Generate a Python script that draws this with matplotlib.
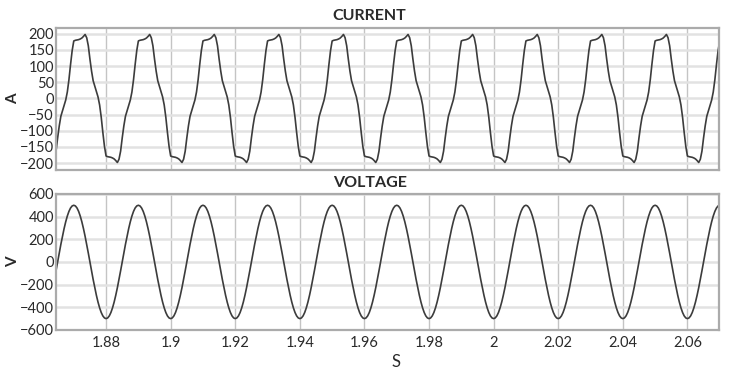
import numpy as np
import matplotlib
matplotlib.use('Agg')
import matplotlib.pyplot as plt
from matplotlib.ticker import FormatStrFormatter

plt.rcParams['font.family'] = ['Lato', 'DejaVu Sans']

# one period (20 ms), 0.5 ms steps, starting at t = 1.86 s
period_start = 1.86
step = 0.0005
current_period = [-178, -180, -181, -182, -184, -187, -192, -198, -188, -163,
                  -122, -85, -55, -38, -22, -5, 20, 58, 105, 148,
                  178, 180, 181, 182, 184, 187, 192, 198, 188, 163,
                  122, 85, 55, 38, 22, 5, -20, -58, -105, -148]
voltage_period = [-500, -494, -476, -446, -405, -354, -294, -227, -155, -78,
                  0, 78, 155, 227, 294, 354, 405, 446, 476, 494,
                  500, 494, 476, 446, 405, 354, 294, 227, 155, 78,
                  0, -78, -155, -227, -294, -354, -405, -446, -476, -494]
n_periods = 11

xticks = [1.88, 1.90, 1.92, 1.94, 1.96, 1.98, 2.00, 2.02, 2.04, 2.06]
cur_ticks = [-200, -150, -100, -50, 0, 50, 100, 150, 200]
volt_ticks = [-600, -400, -200, 0, 200, 400, 600]

n = len(current_period) * n_periods
t = period_start + step * np.arange(n + 1)
cur = np.append(np.tile(current_period, n_periods), current_period[0])
volt = np.append(np.tile(voltage_period, n_periods), voltage_period[0])

fig = plt.figure(figsize=(7.38, 3.81), dpi=100)
ax1 = fig.add_axes([0.0759, 0.554, 0.898, 0.3725])
ax2 = fig.add_axes([0.0759, 0.134, 0.898, 0.357])

line_c = '#3c3c3c'
frame_c = '#ababab'
text_c = '#2a2a2a'


def style(ax, yticks, ylim, ylabel):
    ax.set_xlim(1.8645, 2.0697)
    ax.set_ylim(*ylim)
    ax.set_yticks(yticks)
    ax.set_xticks(xticks)
    ax.grid(axis='y', color='#e2e2e2', linewidth=1.8)
    ax.grid(axis='x', color='#c4c4c4', linewidth=1.0)
    ax.set_axisbelow(True)
    for s in ax.spines.values():
        s.set_color(frame_c)
        s.set_linewidth(1.6)
    ax.tick_params(axis='y', length=0, pad=1.5, labelsize=10.5, labelcolor=text_c)
    ax.tick_params(axis='x', length=0, pad=4, labelsize=10.5, labelcolor=text_c)
    ax.set_ylabel(ylabel, fontsize=11, fontweight='bold', color=text_c)
    ax.yaxis.set_label_coords(-0.054, 0.5)


ax1.plot(t, cur, color=line_c, linewidth=1.2)
style(ax1, cur_ticks, (-221, 218), 'A')
ax1.tick_params(axis='x', labelbottom=False)

ax2.plot(t, volt, color=line_c, linewidth=1.2)
style(ax2, volt_ticks, (-600, 600), 'V')
ax2.xaxis.set_major_formatter(FormatStrFormatter('%g'))

# titles are centred on the figure, not the axes
fig.text(0.5, 0.957, 'CURRENT', ha='center', va='center', fontsize=11.5,
         fontweight='bold', color=text_c)
fig.text(0.502, 0.519, 'VOLTAGE', ha='center', va='center', fontsize=11.5,
         fontweight='bold', color=text_c)
fig.text(0.537, 0.05, 'S', ha='center', va='center', fontsize=12, color=text_c)

plt.savefig('out.png', dpi=100)
plt.close()
